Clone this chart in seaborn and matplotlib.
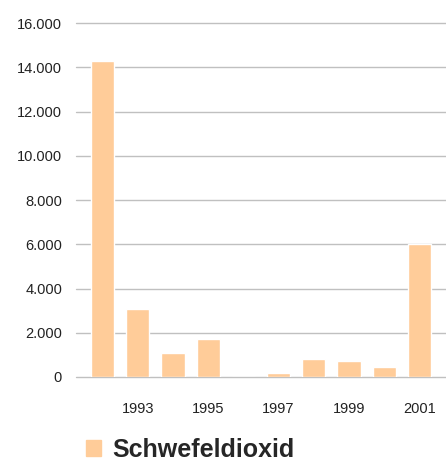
import matplotlib
matplotlib.use("Agg")
import matplotlib.pyplot as plt
from matplotlib.patches import Patch
from matplotlib.ticker import FuncFormatter
import seaborn as sns
import pandas as pd

# data (tonnes)
years = [1992, 1993, 1994, 1995, 1996, 1997, 1998, 1999, 2000, 2001]
so2 = [14300, 3090, 1100, 1730, 0, 200, 830, 740, 470, 6000]
series_name = "Schwefeldioxid"
bar_color = "#FFCC99"

df = pd.DataFrame({"year": [str(y) for y in years], "value": so2})

sns.set_style("white")
plt.rcParams['font.family'] = ['Liberation Sans', 'DejaVu Sans']

fig = plt.figure(figsize=(4.46, 4.63), dpi=100)
ax = fig.add_axes([76/446, 86/463, 370/446, 354/463])

sns.barplot(data=df, x="year", y="value", color=bar_color, saturation=1,
            width=0.66, errorbar=None, ax=ax)

ax.set_xlim(-0.75, 9.75)
ax.set_ylim(0, 16000)
ax.set_yticks(range(0, 16001, 2000))
ax.yaxis.set_major_formatter(FuncFormatter(lambda v, p: f"{int(v):,}".replace(",", ".")))
ax.set_xticks(range(len(years)))
ax.set_xticklabels([str(y) if y % 2 == 1 else "" for y in years])

ax.grid(axis="y", color="#c0c0c0", linewidth=1)
ax.set_axisbelow(True)
for gl in ax.get_ygridlines():
    gl.set_clip_on(False)
for s in ax.spines.values():
    s.set_visible(False)
ax.tick_params(axis="y", length=0, pad=10, labelsize=10.5, labelcolor="#222222")
ax.tick_params(axis="x", length=0, pad=18, labelsize=10.5, labelcolor="#222222")
ax.set_xlabel("")
ax.set_ylabel("")

fig.legend(handles=[Patch(color=bar_color, label=series_name)],
           loc="center left", bbox_to_anchor=(86/446, 13/463),
           frameon=False, handlelength=0.6, handleheight=0.6, handletextpad=0.47,
           borderaxespad=0, borderpad=0,
           prop={"weight": "bold", "size": 18})

fig.savefig("out.png", dpi=100)
